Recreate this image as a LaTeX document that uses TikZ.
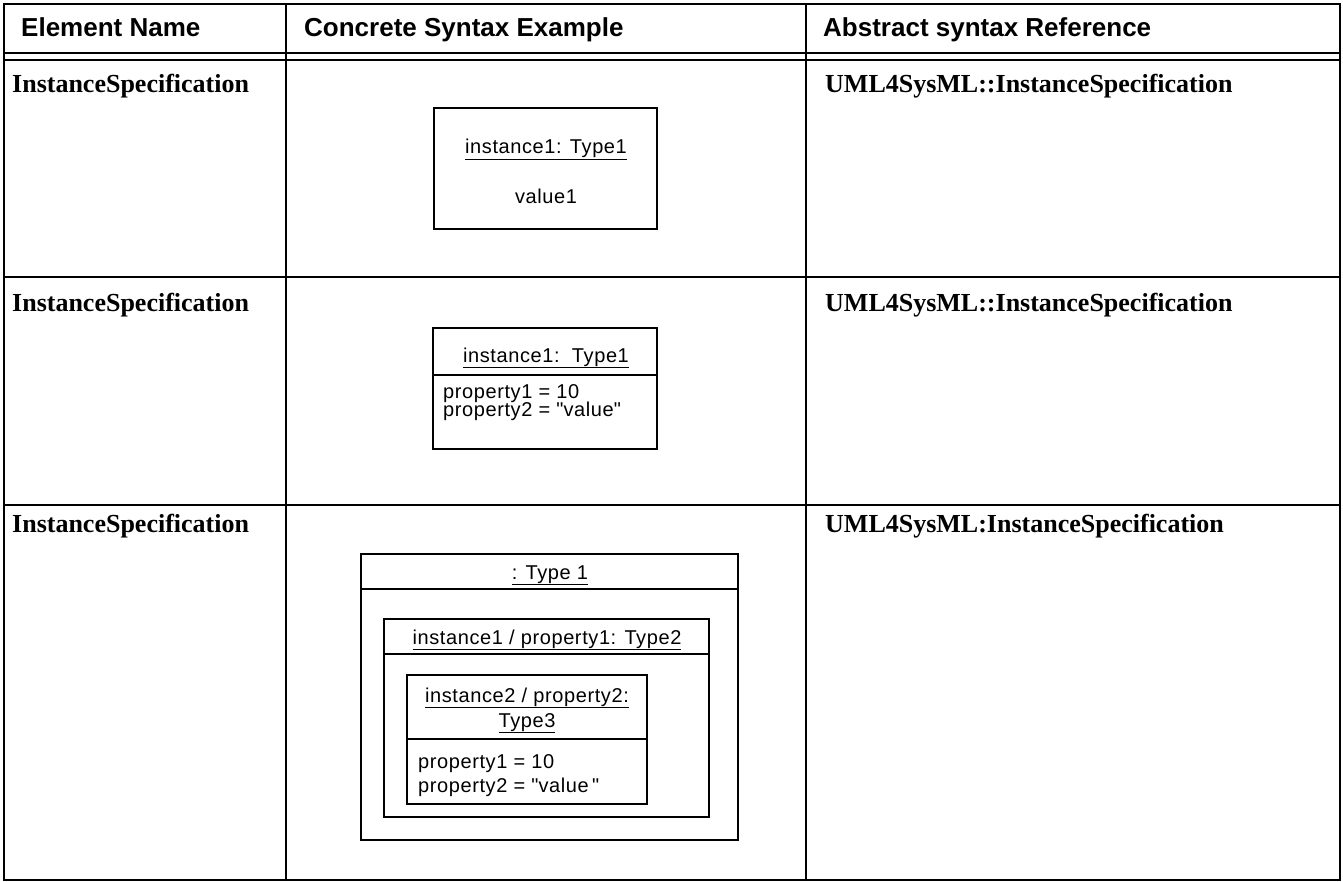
\documentclass[tikz,border=0pt]{standalone}
\usepackage{fontspec}
\setmainfont{Liberation Serif}
\setsansfont{Liberation Sans}
\newfontfamily\boxfont[LetterSpace=3]{Liberation Sans}
\newcommand{\qq}{\textquotedbl}
\begin{document}
\begin{tikzpicture}[x=1pt,y=-1pt,
  gridline/.style={line width=2.4pt},
  umlbox/.style={draw, line width=1.2pt, inner sep=0, fill=none},
  hdr/.style={font=\sffamily\bfseries\fontsize{26}{30}\selectfont, anchor=base west, inner sep=0},
  cell/.style={font=\rmfamily\bfseries\fontsize{26}{30}\selectfont, anchor=base west, inner sep=0},
  utext/.style={font=\boxfont\fontsize{20}{24}\selectfont, inner sep=0, anchor=base},
  ltext/.style={font=\boxfont\fontsize{20}{24}\selectfont, inner sep=0, anchor=base west},
]
\useasboundingbox (0,0) rectangle (1343,882);

% table grid
\draw[gridline] (4,4) rectangle (1340,880);
\draw[gridline] (286,4) -- (286,880);
\draw[gridline] (806,4) -- (806,880);
\draw[gridline] (4,53) -- (1340,53);
\draw[gridline] (4,60) -- (1340,60);
\draw[gridline] (4,277) -- (1340,277);
\draw[gridline] (4,505) -- (1340,505);

% header
\node[hdr] (h1) at (21,37) {Element Name};
\node[hdr] (h2) at (304,37) {Concrete Syntax Example};
\node[hdr] (h3) at (823,37) {Abstract syntax Reference};

% column texts
\node[cell] (n1) at (12,93) {InstanceSpecification};
\node[cell] (n2) at (12,312) {InstanceSpecification};
\node[cell] (n3) at (12,532) {InstanceSpecification};
\node[cell] (r1) at (825,93) {UML4SysML::InstanceSpecification};
\node[cell] (r2) at (825,312) {UML4SysML::InstanceSpecification};
\node[cell] (r3) at (825,532) {UML4SysML:InstanceSpecification};

% row 1 box
\node[umlbox, minimum width=223pt, minimum height=121pt] (b1) at (545.5,168.5) {};
\node[utext] (b1t) at (546,154) {\underline{instance1: Type1}};
\node[utext] (b1v) at (546,204) {value1};

% row 2 box
\node[umlbox, minimum width=224pt, minimum height=121pt] (b2) at (545,388.5) {};
\draw[line width=1.2pt] (b2.west |- 0,375) -- (b2.east |- 0,375);
\node[utext] (b2t) at (546,362) {\underline{instance1:\ \ Type1}};
\node[ltext] (b2p1) at (443,398) {property1 = 10};
\node[ltext] (b2p2) at (443,416) {property2 = \qq value\qq};

% row 3 boxes
\node[umlbox, minimum width=377pt, minimum height=286pt] (b3) at (549.5,697) {};
\draw[line width=1.2pt] (b3.west |- 0,589) -- (b3.east |- 0,589);
\node[utext] (b3t) at (550,579) {\underline{: Type 1}};

\node[umlbox, minimum width=325pt, minimum height=198pt] (b4) at (546.5,718) {};
\draw[line width=1.2pt] (b4.west |- 0,654) -- (b4.east |- 0,654);
\node[utext] (b4t) at (547,644) {\underline{instance1 / property1: Type2}};

\node[umlbox, minimum width=240pt, minimum height=129pt] (b5) at (527,739.5) {};
\draw[line width=1.2pt] (b5.west |- 0,739) -- (b5.east |- 0,739);
\node[utext] (b5t1) at (527,702) {\underline{instance2 / property2:}};
\node[utext] (b5t2) at (527,727) {\underline{Type3}};
\node[ltext] (b5p1) at (418,768) {property1 = 10};
\node[ltext] (b5p2) at (418,792) {property2 = \qq value\,\qq};
\end{tikzpicture}
\end{document}
